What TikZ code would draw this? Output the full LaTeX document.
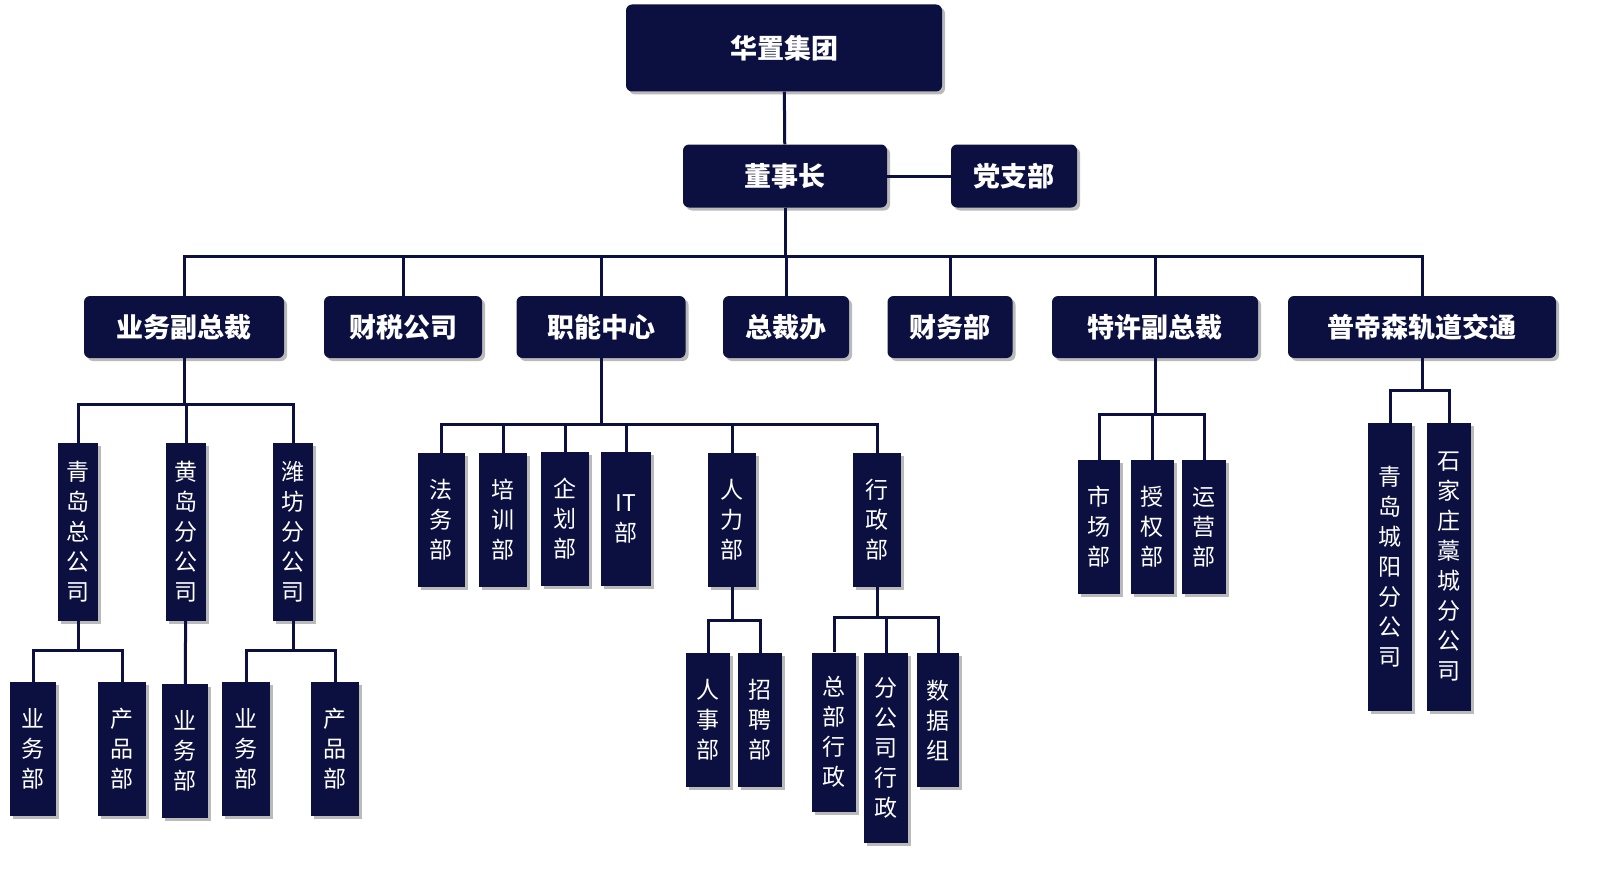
\documentclass[tikz,border=0pt]{standalone}
\usepackage{fontspec}
\setmainfont{Noto Sans CJK SC}
\usetikzlibrary{shadows}
\definecolor{navy}{HTML}{0B1040}
\tikzset{
  box/.style = {fill=navy, text=white, rounded corners=6pt, inner sep=0pt,
    font=\fontsize{27}{30}\selectfont\bfseries,
    drop shadow={shadow xshift=3pt, shadow yshift=-3pt, fill=black!45, opacity=.6}},
  vbox/.style = {fill=navy, text=white, inner sep=0pt, align=center, text width=40pt,
    font=\fontsize{23}{30}\selectfont,
    drop shadow={shadow xshift=3pt, shadow yshift=-3pt, fill=black!45, opacity=.6}},
  link/.style = {draw=navy, line width=3pt}
}
\begin{document}
\begin{tikzpicture}[x=1pt, y=-1pt]
  % top levels
  \node[box, minimum width=316pt, minimum height=87pt] (hz) at (784,48) {华置集团};
  \node[box, minimum width=204pt, minimum height=63pt] (dsz) at (785,176) {董事长};
  \node[box, minimum width=126pt, minimum height=63pt] (dzb) at (1014,176) {党支部};
  \node[box, minimum width=200pt, minimum height=62pt] (ywf) at (184,327) {业务副总裁};
  \node[box, minimum width=158pt, minimum height=62pt] (cs) at (403,327) {财税公司};
  \node[box, minimum width=169pt, minimum height=62pt] (zn) at (601,327) {职能中心};
  \node[box, minimum width=126pt, minimum height=62pt] (zcb) at (786,327) {总裁办};
  \node[box, minimum width=125pt, minimum height=62pt] (cw) at (950,327) {财务部};
  \node[box, minimum width=206pt, minimum height=62pt] (txf) at (1155,327) {特许副总裁};
  \node[box, minimum width=268pt, minimum height=62pt] (pds) at (1422,327) {普帝森轨道交通};
  % business branch
  \node[vbox, minimum height=178pt] (qdz) at (78,532) {青\\岛\\总\\公\\司};
  \node[vbox, minimum height=178pt] (hdf) at (186,532) {黄\\岛\\分\\公\\司};
  \node[vbox, minimum height=178pt] (wff) at (293,532) {潍\\坊\\分\\公\\司};
  \node[vbox, minimum height=134pt, text width=46pt] (yw1) at (33,749) {业\\务\\部};
  \node[vbox, minimum height=134pt, text width=48pt] (cp1) at (122,749) {产\\品\\部};
  \node[vbox, minimum height=134pt, text width=46pt] (yw2) at (185,751) {业\\务\\部};
  \node[vbox, minimum height=134pt, text width=48pt] (yw3) at (246,749) {业\\务\\部};
  \node[vbox, minimum height=134pt, text width=48pt] (cp3) at (335,749) {产\\品\\部};
  % functional branch
  \node[vbox, minimum height=134pt, text width=47pt] (fw) at (441,520) {法\\务\\部};
  \node[vbox, minimum height=134pt, text width=48pt] (px) at (503,520) {培\\训\\部};
  \node[vbox, minimum height=134pt, text width=48pt] (qh) at (565,519) {企\\划\\部};
  \node[vbox, minimum height=134pt, text width=50pt] (it) at (626,519) {IT\\部};
  \node[vbox, minimum height=134pt, text width=48pt] (rl) at (732,520) {人\\力\\部};
  \node[vbox, minimum height=134pt, text width=48pt] (xz) at (877,520) {行\\政\\部};
  \node[vbox, minimum height=134pt, text width=44pt] (rs) at (708,720) {人\\事\\部};
  \node[vbox, minimum height=134pt, text width=44pt] (zp) at (760,720) {招\\聘\\部};
  \node[vbox, minimum height=159pt, text width=44pt] (zbxz) at (834,732) {总\\部\\行\\政};
  \node[vbox, minimum height=190pt, text width=44pt] (fgxz) at (886,748) {分\\公\\司\\行\\政};
  \node[vbox, minimum height=134pt, text width=42pt] (sjz) at (938,720) {数\\据\\组};
  % franchise branch
  \node[vbox, minimum height=134pt, text width=42pt] (sc) at (1099,527) {市\\场\\部};
  \node[vbox, minimum height=134pt, text width=43pt] (sq) at (1152,527) {授\\权\\部};
  \node[vbox, minimum height=134pt, text width=44pt] (yy) at (1204,527) {运\\营\\部};
  \node[vbox, minimum height=288pt, text width=44pt] (cy) at (1390,567) {青\\岛\\城\\阳\\分\\公\\司};
  \node[vbox, minimum height=288pt, text width=44pt] (gc) at (1449,567) {石\\家\\庄\\藁\\城\\分\\公\\司};
  % connectors
  \draw[link] (hz) -- (dsz);
  \draw[link] (dsz) -- (dzb);
  \foreach \c in {ywf,cs,zn,zcb,cw,txf,pds}
    \draw[link] (dsz.south) -- ++(0,49) -| (\c.north);
  \foreach \c in {qdz,hdf,wff}
    \draw[link] (ywf.south) -- ++(0,46) -| (\c.north);
  \foreach \c in {yw1,cp1}
    \draw[link] (qdz.south) -- ++(0,29) -| (\c.north);
  \draw[link] (hdf) -- (yw2);
  \foreach \c in {yw3,cp3}
    \draw[link] (wff.south) -- ++(0,29) -| (\c.north);
  \foreach \c in {fw,px,qh,it,rl,xz}
    \draw[link] (zn.south) -- ++(0,66) -| (\c.north);
  \foreach \c in {rs,zp}
    \draw[link] (rl.south) -- ++(0,33) -| (\c.north);
  \foreach \c in {zbxz,fgxz,sjz}
    \draw[link] (xz.south) -- ++(0,30) -| (\c.north);
  \foreach \c in {sc,sq,yy}
    \draw[link] (txf.south) -- ++(0,56) -| (\c.north);
  \foreach \c in {cy,gc}
    \draw[link] (pds.south) -- ++(0,32) -| (\c.north);
  \pgfresetboundingbox
  \useasboundingbox (0,0) rectangle (1600,872);
\end{tikzpicture}
\end{document}
